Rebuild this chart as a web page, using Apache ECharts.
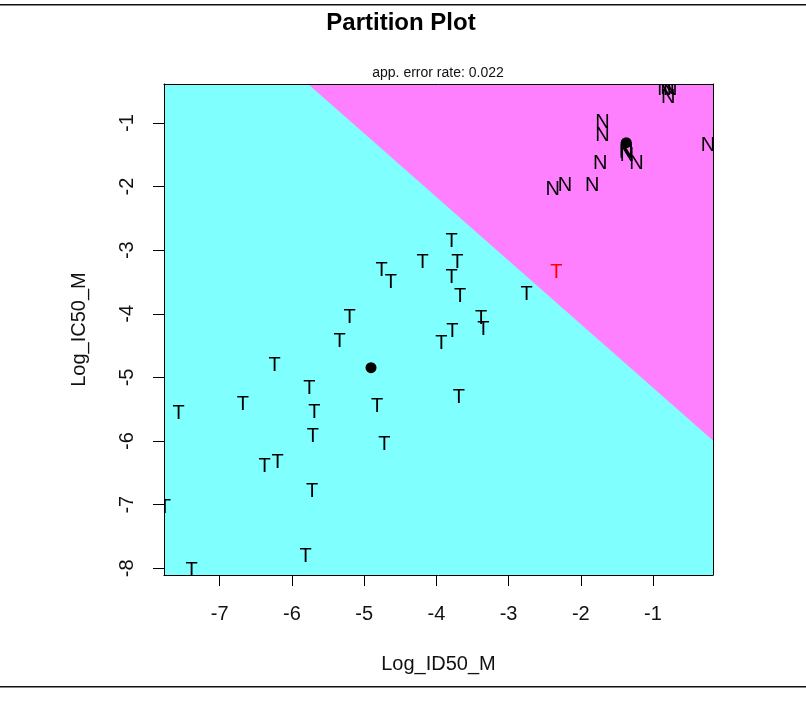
<!DOCTYPE html>
<html>
<head>
<meta charset="utf-8">
<script src="https://cdn.jsdelivr.net/npm/echarts@6/dist/echarts.min.js"></script>
<style>
html,body{margin:0;padding:0;background:#fff;}
#chart{width:806px;height:707px;}
</style>
</head>
<body>
<div id="chart"></div>
<script>
// ---- data ----
var xTicks = [-7, -6, -5, -4, -3, -2, -1];
var yTicks = [-8, -7, -6, -5, -4, -3, -2, -1];
var xRange = [-7.772, -0.169];
var yRange = [-8.105, -0.387];

// decision boundary endpoints (top edge, right edge)
var boundary = [[-5.777, -0.387], [-0.169, -5.99]];

// class "T" points correctly classified
var tPoints = [
  [-3.79,-2.87],[-4.19,-3.19],[-3.71,-3.19],[-3.79,-3.43],[-4.76,-3.32],[-4.63,-3.51],
  [-3.67,-3.72],[-2.75,-3.69],[-5.20,-4.05],[-3.38,-4.07],[-3.35,-4.25],[-3.78,-4.28],
  [-5.34,-4.43],[-3.93,-4.46],[-6.24,-4.81],[-5.76,-5.18],[-6.68,-5.43],[-7.57,-5.57],
  [-5.69,-5.55],[-4.82,-5.46],[-3.69,-5.32],[-5.71,-5.92],[-4.72,-6.05],[-6.38,-6.40],
  [-6.20,-6.34],[-5.72,-6.79],[-7.76,-7.04],[-5.81,-7.81],[-7.39,-8.04]
];
// misclassified "T" point
var tWrong = [[-2.34,-3.35]];
// class "N" points
var nPoints = [
  [-0.84,-0.47],[-0.76,-0.47],[-0.79,-0.60],[-0.80,-0.45],
  [-1.70,-0.99],[-1.70,-1.19],
  [-1.37,-1.43],[-1.36,-1.51],[-1.37,-1.47],
  [-1.23,-1.63],[-1.73,-1.64],[-0.24,-1.36],
  [-2.39,-2.05],[-2.22,-1.99],[-1.84,-1.99]
];
// class means
var means = [[-4.905,-4.847],[-1.37,-1.31]];

// ---- chart ----
var FONT = '"Liberation Sans", Arial, sans-serif';
var chart = echarts.init(document.getElementById('chart'), null, {renderer:'canvas'});

function textSeries(name, pts, label, color) {
  return {
    name: name, type: 'custom', clip: true, z: 3,
    data: pts,
    renderItem: function (params, api) {
      var p = api.coord([api.value(0), api.value(1)]);
      return {
        type: 'text', x: p[0], y: p[1],
        style: { text: label, fill: color, font: '20px ' + FONT, align: 'center', verticalAlign: 'middle' }
      };
    }
  };
}

var pinkRegion = [boundary[0], [xRange[1], yRange[1]], boundary[1]];

var option = {
  animation: false,
  backgroundColor: '#ffffff',
  title: [
    { text: 'Partition Plot', left: 401, top: 11, padding: 0, textAlign: 'center',
      textStyle: { fontSize: 24, fontWeight: 'bold', color: '#000', fontFamily: FONT } },
    { text: 'app. error rate: 0.022', left: 438, top: 66, padding: 0, textAlign: 'center',
      textStyle: { fontSize: 14, fontWeight: 'normal', color: '#111', fontFamily: FONT } }
  ],
  grid: { left: 164, top: 84, right: 93, bottom: 132, show: true, backgroundColor: '#80FFFF', borderWidth: 0 },
  xAxis: [
    { type: 'value', min: xRange[0], max: xRange[1], position: 'bottom', z: 10,
      name: 'Log_ID50_M', nameLocation: 'middle', nameGap: 79,
      nameTextStyle: { fontSize: 20, color: '#111', fontFamily: FONT },
      axisLine: { show: true, onZero: false, lineStyle: { color: '#000', width: 1 } },
      axisTick: { show: true, length: 11, customValues: xTicks, lineStyle: { color: '#000' } },
      axisLabel: { show: true, customValues: xTicks, margin: 29, fontSize: 20, color: '#111', fontFamily: FONT },
      splitLine: { show: false } },
    { type: 'value', min: xRange[0], max: xRange[1], position: 'top', z: 10,
      axisLine: { show: true, onZero: false, lineStyle: { color: '#000', width: 1 } },
      axisTick: { show: false }, axisLabel: { show: false }, splitLine: { show: false } }
  ],
  yAxis: [
    { type: 'value', min: yRange[0], max: yRange[1], position: 'left', z: 10,
      name: 'Log_IC50_M', nameLocation: 'middle', nameGap: 75, nameRotate: 90,
      nameTextStyle: { fontSize: 20, color: '#111', fontFamily: FONT },
      axisLine: { show: true, onZero: false, lineStyle: { color: '#000', width: 1 } },
      axisTick: { show: true, length: 11, customValues: yTicks, lineStyle: { color: '#000' } },
      axisLabel: { show: true, customValues: yTicks, margin: 27, rotate: 90, fontSize: 20, color: '#111', fontFamily: FONT },
      splitLine: { show: false } },
    { type: 'value', min: yRange[0], max: yRange[1], position: 'right', z: 10,
      axisLine: { show: true, onZero: false, lineStyle: { color: '#000', width: 1 } },
      axisTick: { show: false }, axisLabel: { show: false }, splitLine: { show: false } }
  ],
  graphic: [
    { type: 'rect', shape: { x: 0, y: 4, width: 806, height: 1.6 }, style: { fill: '#111' } },
    { type: 'rect', shape: { x: 0, y: 686, width: 806, height: 1.6 }, style: { fill: '#111' } }
  ],
  series: [
    { name: 'regionN', type: 'custom', clip: true, z: 1, data: [0],
      renderItem: function (params, api) {
        var pts = pinkRegion.map(function (d) { return api.coord(d); });
        return { type: 'polygon', shape: { points: pts }, style: { fill: '#FF80FF' } };
      } },
    textSeries('T', tPoints, 'T', '#000'),
    textSeries('Tw', tWrong, 'T', '#ff0000'),
    textSeries('N', nPoints, 'N', '#000'),
    { name: 'means', type: 'scatter', z: 4, symbol: 'circle', symbolSize: 11,
      itemStyle: { color: '#000', opacity: 1 }, data: means }
  ]
};
chart.setOption(option);
</script>
</body>
</html>
